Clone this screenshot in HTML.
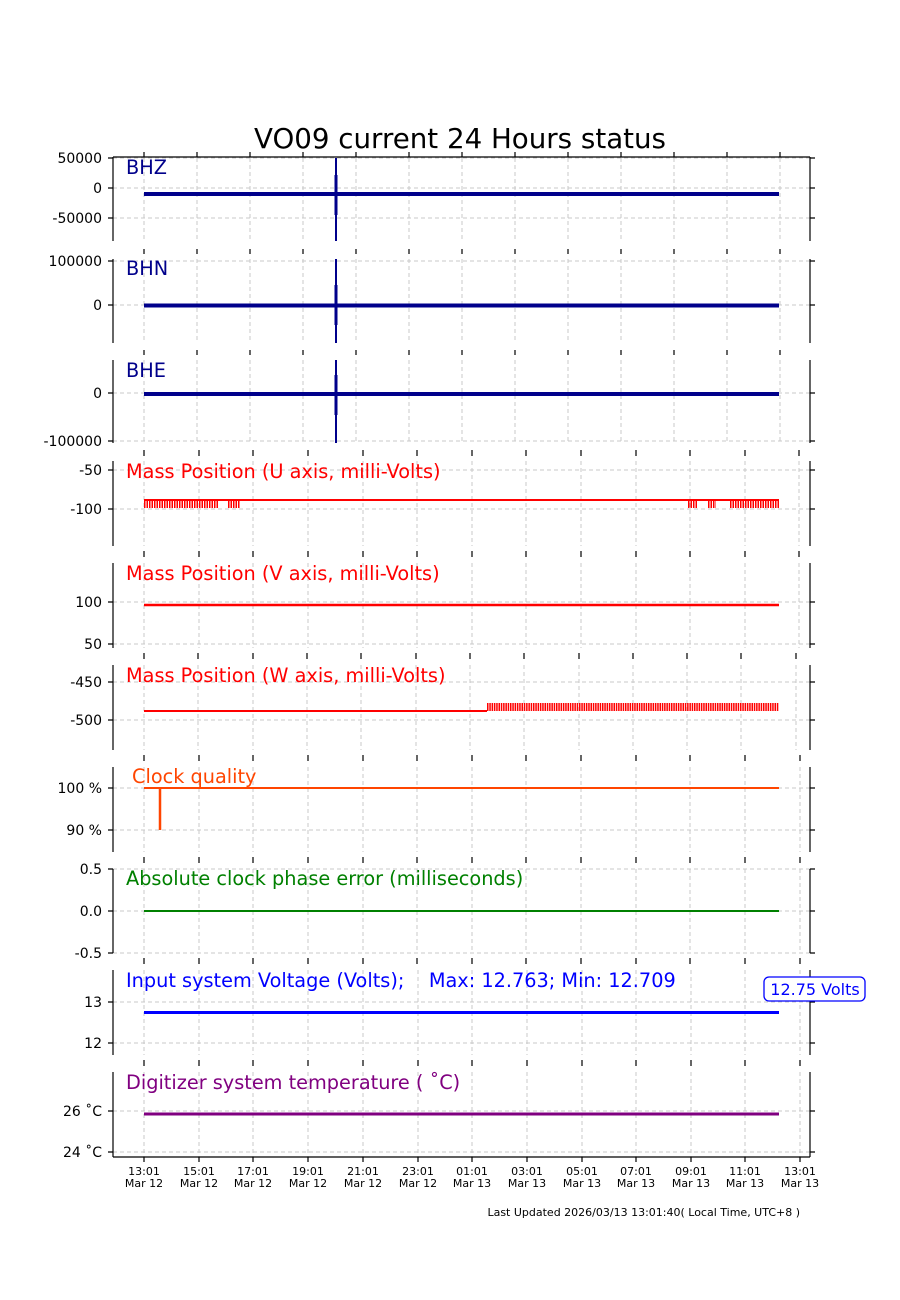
<!DOCTYPE html>
<html><head><meta charset="utf-8"><style>
html,body{margin:0;padding:0;background:#fff}
svg{display:block}
text{font-family:"DejaVu Sans","Liberation Sans",sans-serif;white-space:pre}
</style></head><body>
<svg width="900" height="1300" viewBox="0 0 900 1300" xmlns="http://www.w3.org/2000/svg">
<text x="460" y="148" font-size="27.7" text-anchor="middle" fill="#000">VO09 current 24 Hours status</text>

<g stroke="#c8c8c8" stroke-width="1" stroke-dasharray="4 3" fill="none">
<path d="M144 158V241M197 158V241M250 158V241M303 158V241M356 158V241M409 158V241M462 158V241M515 158V241M568 158V241M621 158V241M674 158V241M727 158V241M780 158V241"/>
<path d="M144 259V343M197 259V343M250 259V343M303 259V343M356 259V343M409 259V343M462 259V343M515 259V343M568 259V343M621 259V343M674 259V343M727 259V343M780 259V343"/>
<path d="M144 360V443M197 360V443M250 360V443M303 360V443M356 360V443M409 360V443M462 360V443M515 360V443M568 360V443M621 360V443M674 360V443M727 360V443M780 360V443"/>
<path d="M144 461V546M199 461V546M253 461V546M308 461V546M363 461V546M417 461V546M472 461V546M526 461V546M581 461V546M636 461V546M690 461V546M745 461V546M799 461V546"/>
<path d="M144 563V648M199 563V648M253 563V648M308 563V648M363 563V648M417 563V648M472 563V648M526 563V648M581 563V648M636 563V648M690 563V648M745 563V648M799 563V648"/>
<path d="M144 665V750M198 665V750M253 665V750M307 665V750M361 665V750M416 665V750M470 665V750M524 665V750M579 665V750M633 665V750M687 665V750M741 665V750M796 665V750"/>
<path d="M144 767V852M199 767V852M253 767V852M308 767V852M363 767V852M417 767V852M472 767V852M526 767V852M581 767V852M636 767V852M690 767V852M745 767V852M800 767V852"/>
<path d="M144 869V953M199 869V953M253 869V953M308 869V953M363 869V953M417 869V953M472 869V953M526 869V953M581 869V953M636 869V953M690 869V953M745 869V953M800 869V953"/>
<path d="M144 970V1055M199 970V1055M253 970V1055M308 970V1055M363 970V1055M418 970V1055M472 970V1055M527 970V1055M582 970V1055M636 970V1055M691 970V1055M745 970V1055M800 970V1055"/>
<path d="M144 1072V1157M199 1072V1157M253 1072V1157M308 1072V1157M363 1072V1157M418 1072V1157M472 1072V1157M527 1072V1157M582 1072V1157M636 1072V1157M691 1072V1157M745 1072V1157M800 1072V1157"/>
<path d="M113 158H810M113 188H810M113 218H810M113 261H810M113 305H810M113 393H810M113 441H810M113 470H810M113 509H810M113 602H810M113 644H810M113 682H810M113 720H810M113 788H810M113 830H810M113 869H810M113 911H810M113 953H810M113 1002H810M113 1043H810M113 1111H810M113 1152H810"/>
</g>

<g stroke="#000" stroke-width="1.2" fill="none">
<path d="M113 157H810"/>
<path d="M113 157V241M810 157V241M113 259V343M810 259V343M113 360V443M810 360V443M113 461V546M810 461V546M113 563V648M810 563V648M113 665V750M810 665V750M113 767V852M810 767V852M113 869V953M810 869V953M113 970V1055M810 970V1055M113 1072V1157M810 1072V1157"/>
<path d="M113 1157H810"/>
<path d="M108 158H113M108 188H113M108 218H113M108 261H113M108 305H113M108 393H113M108 441H113M108 470H113M108 509H113M108 602H113M108 644H113M108 682H113M108 720H113M108 788H113M108 830H113M108 869H113M108 911H113M108 953H113M108 1002H113M108 1043H113M108 1111H113M108 1152H113"/>
<path d="M810 158H815M810 188H815M810 218H815M810 261H815M810 305H815M810 393H815M810 441H815M810 470H815M810 509H815M810 602H815M810 644H815M810 682H815M810 720H815M810 788H815M810 830H815M810 869H815M810 911H815M810 953H815M810 1002H815M810 1043H815M810 1111H815M810 1152H815"/>
<path d="M144 152V157M197 152V157M250 152V157M303 152V157M356 152V157M409 152V157M462 152V157M515 152V157M568 152V157M621 152V157M674 152V157M727 152V157M780 152V157"/>
<path d="M144 249V254M197 249V254M250 249V254M303 249V254M356 249V254M409 249V254M462 249V254M515 249V254M568 249V254M621 249V254M674 249V254M727 249V254M780 249V254"/>
<path d="M144 350V355M197 350V355M250 350V355M303 350V355M356 350V355M409 350V355M462 350V355M515 350V355M568 350V355M621 350V355M674 350V355M727 350V355M780 350V355"/>
<path d="M144 450V456M199 450V456M253 450V456M308 450V456M363 450V456M417 450V456M472 450V456M526 450V456M581 450V456M636 450V456M690 450V456M745 450V456M799 450V456"/>
<path d="M144 551V557M199 551V557M253 551V557M308 551V557M363 551V557M417 551V557M472 551V557M526 551V557M581 551V557M636 551V557M690 551V557M745 551V557M799 551V557"/>
<path d="M144 653V659M198 653V659M253 653V659M307 653V659M361 653V659M416 653V659M470 653V659M524 653V659M579 653V659M633 653V659M687 653V659M741 653V659M796 653V659"/>
<path d="M144 755V761M199 755V761M253 755V761M308 755V761M363 755V761M417 755V761M472 755V761M526 755V761M581 755V761M636 755V761M690 755V761M745 755V761M800 755V761"/>
<path d="M144 857V863M199 857V863M253 857V863M308 857V863M363 857V863M417 857V863M472 857V863M526 857V863M581 857V863M636 857V863M690 857V863M745 857V863M800 857V863"/>
<path d="M144 958V964M199 958V964M253 958V964M308 958V964M363 958V964M417 958V964M472 958V964M526 958V964M581 958V964M636 958V964M690 958V964M745 958V964M800 958V964"/>
<path d="M144 1060V1066M199 1060V1066M253 1060V1066M308 1060V1066M363 1060V1066M418 1060V1066M472 1060V1066M527 1060V1066M582 1060V1066M636 1060V1066M691 1060V1066M745 1060V1066M800 1060V1066"/>
<path d="M144 1157V1162M199 1157V1162M253 1157V1162M308 1157V1162M363 1157V1162M418 1157V1162M472 1157V1162M527 1157V1162M582 1157V1162M636 1157V1162M691 1157V1162M745 1157V1162M800 1157V1162"/>
</g>

<g font-size="14" fill="#000" text-anchor="end">
<text x="102" y="163">50000</text><text x="102" y="193">0</text><text x="102" y="223">-50000</text>
<text x="102" y="266">100000</text><text x="102" y="310">0</text>
<text x="102" y="398">0</text><text x="102" y="446">-100000</text>
<text x="102" y="475">-50</text><text x="102" y="514">-100</text>
<text x="102" y="607">100</text><text x="102" y="649">50</text>
<text x="102" y="687">-450</text><text x="102" y="725">-500</text>
<text x="102" y="793">100 %</text><text x="102" y="835">90 %</text>
<text x="102" y="874">0.5</text><text x="102" y="916">0.0</text><text x="102" y="958">-0.5</text>
<text x="102" y="1007">13</text><text x="102" y="1048">12</text>
<text x="102" y="1116">26 ˚C</text><text x="102" y="1157">24 ˚C</text>
</g>

<g fill="none">
<path d="M144 194H779" stroke="#00008b" stroke-width="4"/>
<path d="M336 158V241" stroke="#00008b" stroke-width="2"/>
<path d="M336 175V215" stroke="#00008b" stroke-width="3"/>
<path d="M144 305.5H779" stroke="#00008b" stroke-width="4"/>
<path d="M336 259V343" stroke="#00008b" stroke-width="2"/>
<path d="M336 285V325" stroke="#00008b" stroke-width="3"/>
<path d="M144 394H779" stroke="#00008b" stroke-width="4"/>
<path d="M336 360V443" stroke="#00008b" stroke-width="2"/>
<path d="M336 375V415" stroke="#00008b" stroke-width="3"/>

<path d="M144 500H779" stroke="#f00" stroke-width="2"/>
<path d="M144 504H218M228 504H240M688 504H697M708 504H716M730 504H779" stroke="#f00" stroke-width="8" stroke-dasharray="1.5 1"/>
<path d="M144 605H779" stroke="#f00" stroke-width="2.5"/>
<path d="M144 711H487" stroke="#f00" stroke-width="2"/>
<path d="M487 707H779" stroke="#f00" stroke-width="8" stroke-dasharray="1.5 0.8"/>
<path d="M144 788H779" stroke="#ff4500" stroke-width="2"/>
<path d="M160 788V830" stroke="#ff4500" stroke-width="2.5"/>
<path d="M144 911H779" stroke="#008000" stroke-width="2"/>
<path d="M144 1012.5H779" stroke="#0000ff" stroke-width="3"/>
<path d="M144 1114H779" stroke="#800080" stroke-width="3"/>
</g>

<g font-size="19.3">
<text x="126" y="174" fill="#00008b">BHZ</text>
<text x="126" y="275" fill="#00008b">BHN</text>
<text x="126" y="377" fill="#00008b">BHE</text>
<text x="126" y="478" fill="#f00">Mass Position (U axis, milli-Volts)</text>
<text x="126" y="580" fill="#f00">Mass Position (V axis, milli-Volts)</text>
<text x="126" y="682" fill="#f00">Mass Position (W axis, milli-Volts)</text>
<text x="132" y="783" fill="#ff4500">Clock quality</text>
<text x="126" y="885" fill="#008000">Absolute clock phase error (milliseconds)</text>
<text x="126" y="987" fill="#0000ff">Input system Voltage (Volts);    Max: 12.763; Min: 12.709</text>
<text x="126" y="1089" fill="#800080">Digitizer system temperature ( ˚C)</text>
</g>
<rect x="764" y="977" width="101" height="24" rx="5" fill="#fff" stroke="#0000ff" stroke-width="1.3"/>
<text x="815" y="995" font-size="16" fill="#0000ff" text-anchor="middle">12.75 Volts</text>

<g font-size="11" fill="#000" text-anchor="middle">
<text x="144" y="1175">13:01</text><text x="144" y="1187">Mar 12</text>
<text x="199" y="1175">15:01</text><text x="199" y="1187">Mar 12</text>
<text x="253" y="1175">17:01</text><text x="253" y="1187">Mar 12</text>
<text x="308" y="1175">19:01</text><text x="308" y="1187">Mar 12</text>
<text x="363" y="1175">21:01</text><text x="363" y="1187">Mar 12</text>
<text x="418" y="1175">23:01</text><text x="418" y="1187">Mar 12</text>
<text x="472" y="1175">01:01</text><text x="472" y="1187">Mar 13</text>
<text x="527" y="1175">03:01</text><text x="527" y="1187">Mar 13</text>
<text x="582" y="1175">05:01</text><text x="582" y="1187">Mar 13</text>
<text x="636" y="1175">07:01</text><text x="636" y="1187">Mar 13</text>
<text x="691" y="1175">09:01</text><text x="691" y="1187">Mar 13</text>
<text x="745" y="1175">11:01</text><text x="745" y="1187">Mar 13</text>
<text x="800" y="1175">13:01</text><text x="800" y="1187">Mar 13</text>
</g>
<text x="800" y="1216" font-size="11" fill="#000" text-anchor="end">Last Updated 2026/03/13 13:01:40( Local Time, UTC+8 )</text>
</svg>
</body></html>
